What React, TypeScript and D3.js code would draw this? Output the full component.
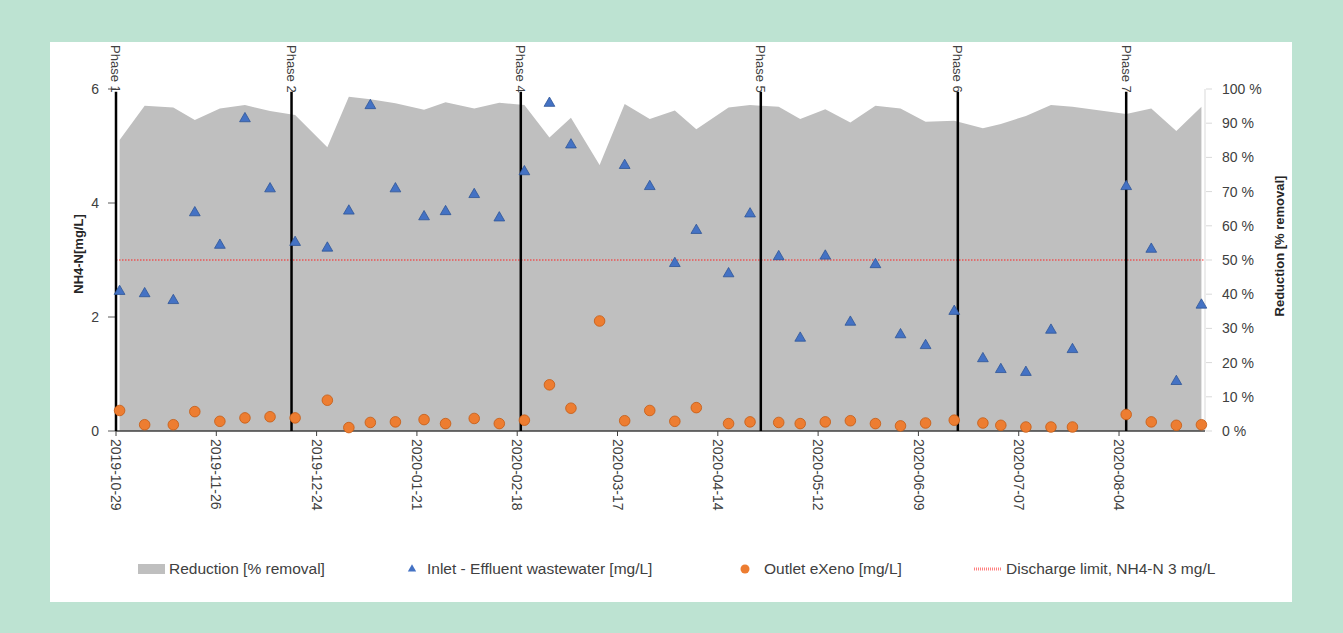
import React from "react";
import * as d3 from "d3";

const dates = [
  "2019-10-30","2019-11-06","2019-11-14","2019-11-20","2019-11-27","2019-12-04","2019-12-11","2019-12-18","2019-12-27",
  "2020-01-02","2020-01-08","2020-01-15","2020-01-23","2020-01-29","2020-02-06","2020-02-13","2020-02-20","2020-02-27",
  "2020-03-04","2020-03-12","2020-03-19","2020-03-26","2020-04-02","2020-04-08","2020-04-17","2020-04-23","2020-05-01",
  "2020-05-07","2020-05-14","2020-05-21","2020-05-28","2020-06-04","2020-06-11","2020-06-19","2020-06-27","2020-07-02",
  "2020-07-09","2020-07-16","2020-07-22","2020-08-06","2020-08-13","2020-08-20","2020-08-27",
];
const inlet: (number | null)[] = [
  2.45, 2.41, 2.29, 3.83, 3.26, 5.48, 4.25, 3.31, 3.21,
  3.86, 5.71, 4.25, 3.76, 3.85, 4.15, 3.74, 4.55, 5.75,
  5.02, null, 4.66, 4.29, 2.94, 3.52, 2.76, 3.81, 3.06,
  1.63, 3.07, 1.91, 2.92, 1.69, 1.50, 2.10, 1.27, 1.08,
  1.03, 1.77, 1.43, 4.29, 3.19, 0.87, 2.21,
];
const outlet = [
  0.36, 0.11, 0.11, 0.34, 0.17, 0.23, 0.25, 0.23, 0.54,
  0.06, 0.15, 0.16, 0.20, 0.13, 0.22, 0.13, 0.19, 0.81,
  0.40, 1.93, 0.18, 0.36, 0.17, 0.41, 0.13, 0.16, 0.15,
  0.13, 0.16, 0.18, 0.13, 0.09, 0.14, 0.19, 0.14, 0.10,
  0.07, 0.07, 0.07, 0.29, 0.16, 0.10, 0.11,
];
const reduction = [
  85.1, 95.1, 94.6, 90.9, 94.3, 95.3, 93.6, 92.4, 83.0,
  97.7, 97.0, 95.8, 93.9, 96.1, 94.3, 96.0, 95.3, 85.8,
  91.6, 77.8, 95.6, 91.2, 93.7, 88.2, 94.6, 95.3, 94.8,
  91.2, 94.1, 90.2, 95.1, 94.3, 90.4, 90.7, 88.5, 89.8,
  92.1, 95.3, 94.8, 92.7, 94.3, 87.7, 94.8,
];
const phaseDates = ["2019-10-29","2019-12-17","2020-02-19","2020-04-26","2020-06-20","2020-08-06"];
const phaseLabels = ["Phase 1","Phase 2","Phase 4","Phase 5","Phase 6","Phase 7"];
const xTickDates = ["2019-10-29","2019-11-26","2019-12-24","2020-01-21","2020-02-18","2020-03-17","2020-04-14","2020-05-12","2020-06-09","2020-07-07","2020-08-04"];
const leftTicks = [0, 2, 4, 6];
const rightTicks = [0, 10, 20, 30, 40, 50, 60, 70, 80, 90, 100];
const dischargeLimit = 3;
const legendLabels = ["Reduction [% removal]", "Inlet - Effluent wastewater [mg/L]", "Outlet eXeno [mg/L]", "Discharge limit, NH4-N 3 mg/L"];

const parse = d3.utcParse("%Y-%m-%d");

export default function App() {
  const W = 1343, H = 633;
  const left = 116, right = 1205, top = 89, bottom = 431;
  const x = d3.scaleUtc().domain([parse("2019-10-29")!, parse("2020-08-28")!]).range([left, right]);
  const yL = d3.scaleLinear().domain([0, 6]).range([bottom, top]);
  const yR = d3.scaleLinear().domain([0, 100]).range([bottom, top]);
  const pts = dates.map((d, i) => ({ date: parse(d)!, inlet: inlet[i], outlet: outlet[i], red: reduction[i] }));
  const area = d3.area<any>().x((d) => x(d.date)).y0(yR(0)).y1((d) => yR(d.red));
  const tri = d3.symbol().type(d3.symbolTriangle).size(50)();
  const triSmall = d3.symbol().type(d3.symbolTriangle).size(30)();
  const font = "'Liberation Sans', Arial, sans-serif";
  const txt = "#404040";
  const legY = 569;

  return (
    <svg width={W} height={H} style={{ position: "absolute", left: 0, top: 0 }} fontFamily={font}>
      <rect x={0} y={0} width={W} height={H} fill="#bde3d2" />
      <rect x={50} y={42} width={1242} height={560} fill="#ffffff" />
      <path d={area(pts) || ""} fill="#bfbfbf" />
      <line x1={left} x2={right} y1={yL(dischargeLimit)} y2={yL(dischargeLimit)} stroke="#ff2020" strokeWidth={1} strokeDasharray="1.5,1.5" />
      {/* right axis */}
      <line x1={right} x2={right} y1={yR(0)} y2={yR(100)} stroke="#d9d9d9" strokeWidth={1} />
      {rightTicks.map((t) => (
        <g key={t}>
          <line x1={right + 1} x2={right + 7} y1={yR(t)} y2={yR(t)} stroke="#d9d9d9" />
          <text x={1222} y={yR(t)} dy="0.35em" fontSize={14} fill={txt}>{`${t} %`}</text>
        </g>
      ))}
      {/* left axis */}
      {leftTicks.map((t) => (
        <g key={t}>
          <line x1={108} x2={left} y1={yL(t)} y2={yL(t)} stroke="#595959" />
          <text x={99} y={yL(t)} dy="0.35em" fontSize={14} fill={txt} textAnchor="end">{t}</text>
        </g>
      ))}
      {/* x axis */}
      <line x1={left} x2={right} y1={bottom} y2={bottom} stroke="#404040" strokeWidth={1.5} />
      {xTickDates.map((d) => {
        const xx = x(parse(d)!);
        return (
          <g key={d}>
            <line x1={xx} x2={xx} y1={bottom} y2={bottom + 5} stroke="#404040" />
            <text x={xx} y={439} dy="0.35em" fontSize={14} fill={txt} transform={`rotate(90 ${xx} 439)`}>{d}</text>
          </g>
        );
      })}
      {/* phases */}
      {phaseDates.map((d, i) => {
        const xx = x(parse(d)!);
        return (
          <g key={d}>
            <line x1={xx} x2={xx} y1={yL(0)} y2={yL(5.95)} stroke="#000" strokeWidth={2.5} />
            <text x={xx} y={45} dy="0.35em" fontSize={13} fill="#404040" transform={`rotate(90 ${xx} 45)`}>{phaseLabels[i]}</text>
          </g>
        );
      })}
      {/* markers */}
      {pts.filter((p) => p.inlet != null).map((p, i) => (
        <path key={"t" + i} d={tri || ""} transform={`translate(${x(p.date)},${yL(p.inlet as number)})`} fill="#4472c4" stroke="#2f5597" strokeWidth={0.8} />
      ))}
      {pts.map((p, i) => (
        <circle key={"c" + i} cx={x(p.date)} cy={yL(p.outlet)} r={5.3} fill="#ed7d31" stroke="#c55a11" strokeWidth={0.8} />
      ))}
      {/* titles */}
      <text x={78} y={254} dy="0.35em" fontSize={13} fontWeight="bold" fill="#262626" textAnchor="middle" transform="rotate(-90 78 254)">NH4-N[mg/L]</text>
      <text x={1279} y={246} dy="0.35em" fontSize={13} fontWeight="bold" fill="#262626" textAnchor="middle" transform="rotate(-90 1279 246)">Reduction [% removal]</text>
      {/* legend */}
      <rect x={138} y={legY - 5} width={27} height={10} fill="#bfbfbf" />
      <text x={169} y={legY} dy="0.35em" fontSize={15.5} fill={txt}>{legendLabels[0]}</text>
      <path d={triSmall || ""} transform={`translate(412,${legY})`} fill="#4472c4" />
      <text x={427} y={legY} dy="0.35em" fontSize={15.5} fill={txt}>{legendLabels[1]}</text>
      <circle cx={745} cy={legY} r={4.5} fill="#ed7d31" />
      <text x={764} y={legY} dy="0.35em" fontSize={15.5} fill={txt}>{legendLabels[2]}</text>
      <line x1={974} x2={1001} y1={legY} y2={legY} stroke="#ff8080" strokeWidth={3} strokeDasharray="1,1" />
      <text x={1006} y={legY} dy="0.35em" fontSize={15.5} fill={txt}>{legendLabels[3]}</text>
    </svg>
  );
}
